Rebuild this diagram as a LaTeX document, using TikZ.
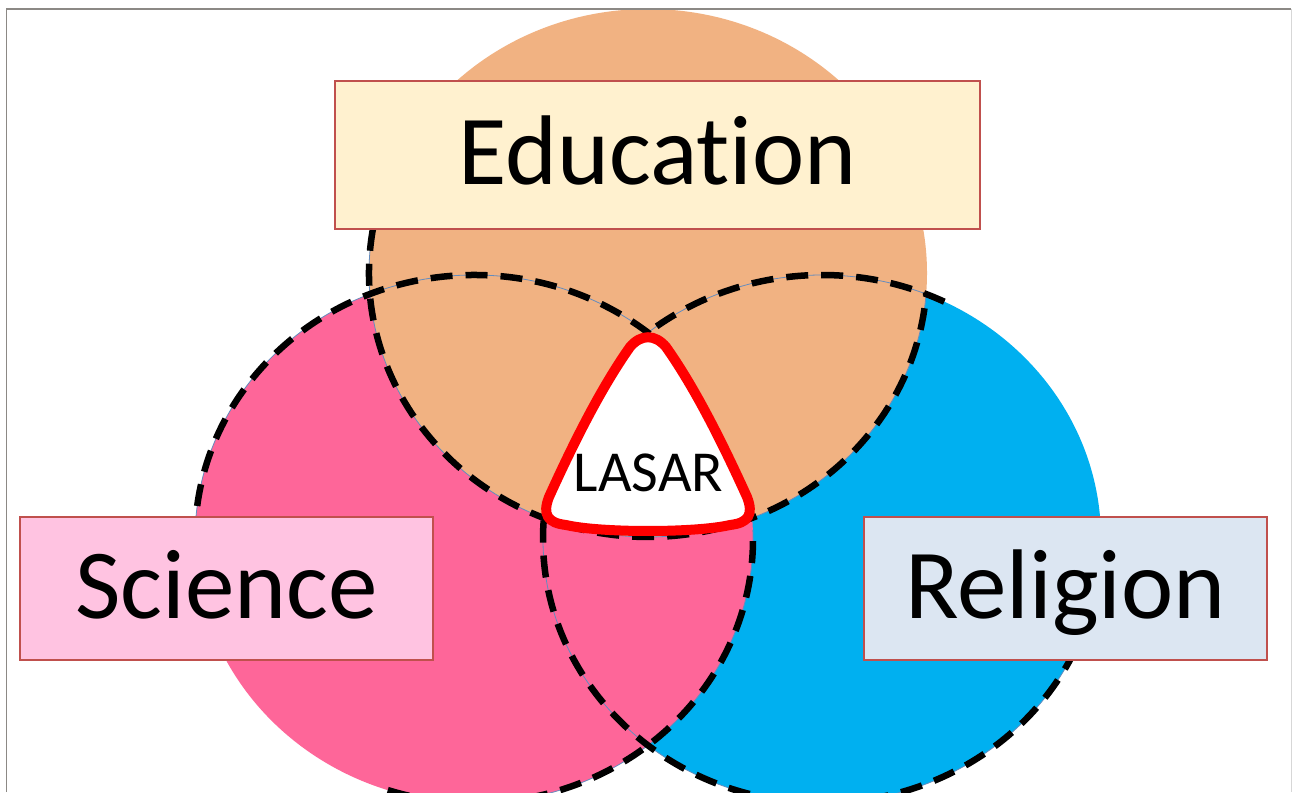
\documentclass[tikz,border=0pt]{standalone}
\usepackage{fontspec}
\setmainfont{Carlito}[Ligatures=CommonOff]
\definecolor{eduorange}{RGB}{241,178,130}
\definecolor{scipink}{RGB}{254,102,153}
\definecolor{relblue}{RGB}{0,176,240}
\definecolor{edubox}{RGB}{255,241,207}
\definecolor{scibox}{RGB}{255,195,225}
\definecolor{relbox}{RGB}{220,230,242}
\definecolor{boxline}{RGB}{192,80,77}
\definecolor{framegray}{RGB}{140,137,133}
\definecolor{framelight}{RGB}{215,215,215}
\definecolor{thinblue}{RGB}{100,140,190}
\begin{document}
\begin{tikzpicture}[x=1pt,y=1pt,
  dashedge/.style={draw=black, line width=6.5pt, dash pattern=on 22pt off 13pt},
  thinedge/.style={draw=thinblue, line width=0.8pt},
  labelbox/.style={draw=boxline, line width=1.2pt, inner sep=0pt, text height=60pt, text depth=0pt, font=\fontsize{99}{110}\selectfont},
  core/.style={draw=red, line width=10pt, fill=white},
  corelabel/.style={font=\fontsize{58}{62}\selectfont, anchor=base, inner sep=0pt},
  frameline/.style={draw=framegray, line width=1.6pt},
  framefaint/.style={draw=framelight, line width=1pt}]
\useasboundingbox (0,0) rectangle (1292,792);
\clip (0,0) rectangle (1292,792);
\fill[white] (0,0) rectangle (1292,792);
% centres
\coordinate (Oedu) at (648,519);
\coordinate (Osci) at (474,253);
\coordinate (Orel) at (822,253);
% fills
\fill[relblue] (Orel) ellipse [x radius=279pt, y radius=264pt];
\fill[scipink] (Osci) ellipse [x radius=279pt, y radius=264pt];
\fill[eduorange] (Oedu) ellipse [x radius=279pt, y radius=264pt];
% thin outlines under the dashes
\draw[thinedge] ([shift={(170.4:279pt and 264pt)}]Oedu) arc[start angle=170.4, end angle=355.7, x radius=279pt, y radius=264pt];
\draw[thinedge] ([shift={(51:279pt and 264pt)}]Osci) arc[start angle=51, end angle=175, x radius=279pt, y radius=264pt];
\draw[thinedge] ([shift={(252:279pt and 264pt)}]Osci) arc[start angle=252, end angle=362, x radius=279pt, y radius=264pt];
\draw[thinedge] ([shift={(64:279pt and 264pt)}]Orel) arc[start angle=64, end angle=129, x radius=279pt, y radius=264pt];
\draw[thinedge] ([shift={(176:279pt and 264pt)}]Orel) arc[start angle=176, end angle=333, x radius=279pt, y radius=264pt];
% dashed outlines
\draw[dashedge] ([shift={(170.4:279pt and 264pt)}]Oedu) arc[start angle=170.4, end angle=355.7, x radius=279pt, y radius=264pt];
\draw[dashedge] ([shift={(51:279pt and 264pt)}]Osci) arc[start angle=51, end angle=175, x radius=279pt, y radius=264pt];
\draw[dashedge] ([shift={(252:279pt and 264pt)}]Osci) arc[start angle=252, end angle=362, x radius=279pt, y radius=264pt];
\draw[dashedge] ([shift={(64:279pt and 264pt)}]Orel) arc[start angle=64, end angle=129, x radius=279pt, y radius=264pt];
\draw[dashedge] ([shift={(176:279pt and 264pt)}]Orel) arc[start angle=176, end angle=333, x radius=279pt, y radius=264pt];
% central region
\path[core] (666,445) .. controls (655,458) and (641,458) .. (630,445)
  .. controls (601,404) and (574,350) .. (549,295)
  .. controls (542,277) and (548,269) .. (566,267)
  .. controls (600,259) and (696,259) .. (730,267)
  .. controls (748,269) and (754,277) .. (747,295)
  .. controls (722,350) and (695,404) .. (666,445) -- cycle;
\node[corelabel] (lasar) at (648.5,300) {LASAR};
% label boxes
\node[labelbox, fill=edubox, minimum width=645pt, minimum height=148pt] (edu) at (657.5,637) {Education};
\node[labelbox, fill=scibox, minimum width=413pt, minimum height=143pt] (sci) at (226.5,203.5) {Science};
\node[labelbox, fill=relbox, minimum width=403pt, minimum height=143pt] (rel) at (1065.5,203.5) {Religion};
% frame
\coordinate (fbl) at (6.5,0);
\coordinate (ftl) at (6.5,783);
\coordinate (ftr) at (1291,783);
\coordinate (fbr) at (1291,0);
\draw[framefaint] (ftr) -- (fbr);
\draw[frameline] (fbl) -- (ftl) -- (ftr);
\end{tikzpicture}
\end{document}
